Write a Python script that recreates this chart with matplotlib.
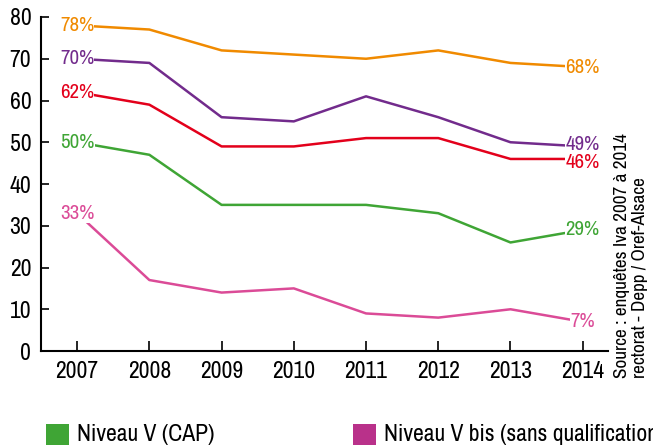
import matplotlib
matplotlib.use("Agg")
from matplotlib import pyplot as plt
from matplotlib.patches import Rectangle
from matplotlib import font_manager

years = [2007, 2008, 2009, 2010, 2011, 2012, 2013, 2014]
niveau_iv_bac = [78, 77, 72, 71, 70, 72, 69, 68]
ensemble = [70, 69, 56, 55, 61, 56, 50, 49]
niveau_iv = [62, 59, 49, 49, 51, 51, 46, 46]
niveau_v_cap = [50, 47, 35, 35, 35, 33, 26, 29]
niveau_v_bis = [33, 17, 14, 15, 9, 8, 10, 7]

# (values, colour, vertical nudge of the 2014 label in points)
series = [
    (niveau_iv_bac, "#f08a00", 0),
    (ensemble, "#722b8c", 1.5),
    (niveau_iv, "#e3001b", -2.5),
    (niveau_v_cap, "#3fa535", 0),
    (niveau_v_bis, "#db4b97", 0),
]

legend_labels = ["Niveau V (CAP)", "Niveau V bis (sans qualification)"]
legend_colors = ["#3fa535", "#b9318a"]

source_lines = ["Source : enquêtes Iva 2007 à 2014", "rectorat - Depp / Oref-Alsace"]

# narrow sans face, falling back to Liberation Sans
names = {f.name for f in font_manager.fontManager.ttflist}
family = "Liberation Sans"
for cand in ["Liberation Sans Narrow", "Archivo Narrow", "Roboto Condensed",
             "PT Sans Narrow", "Pragati Narrow", "Arimo"]:
    if cand in names:
        family = cand
        break
plt.rcParams["font.family"] = [family, "DejaVu Sans"]

fig = plt.figure(figsize=(6.53, 4.45), dpi=100)
ax = fig.add_axes([0.0628, 0.2112, 0.8683, 0.7506])

for values, color, nudge in series:
    ax.plot(years, values, color=color, lw=1.8, zorder=2)
    # end labels sit on top of the line ends
    for i, dy in ((0, 0), (-1, nudge)):
        ax.annotate(f"{values[i]}%", (years[i], values[i]), xytext=(0, dy),
                    textcoords="offset points", color=color, fontsize=15,
                    ha="center", va="center", zorder=3,
                    bbox=dict(facecolor="white", edgecolor="none", pad=0.2))

ax.set_xlim(2006.5, 2014.35)
ax.set_ylim(0, 80)
ax.set_xticks(years)
ax.set_yticks(range(0, 81, 10))
ax.tick_params(direction="in", length=6, width=1.2, labelsize=17, pad=7, colors="black")
ax.tick_params(axis="x", length=7)
for side in ("top", "right"):
    ax.spines[side].set_visible(False)
for side in ("left", "bottom"):
    ax.spines[side].set_linewidth(1.5)

# source note, rotated along the right edge
fig.text(0.953, 0.15, source_lines[0], rotation=90, fontsize=13.8, ha="center", va="bottom")
fig.text(0.980, 0.15, source_lines[1], rotation=90, fontsize=13.8, ha="center", va="bottom")

# legend row, partly cut by the figure edge
lx = [46 / 653, 353 / 653]
for x, label, color in zip(lx, legend_labels, legend_colors):
    fig.patches.append(Rectangle((x, -0.005), 23 / 653, 23 / 445, transform=fig.transFigure,
                                 facecolor=color, edgecolor="none"))
    fig.text(x + 31 / 653, 0.0, label, fontsize=17, ha="left", va="bottom")

fig.savefig("out.png", dpi=100)
